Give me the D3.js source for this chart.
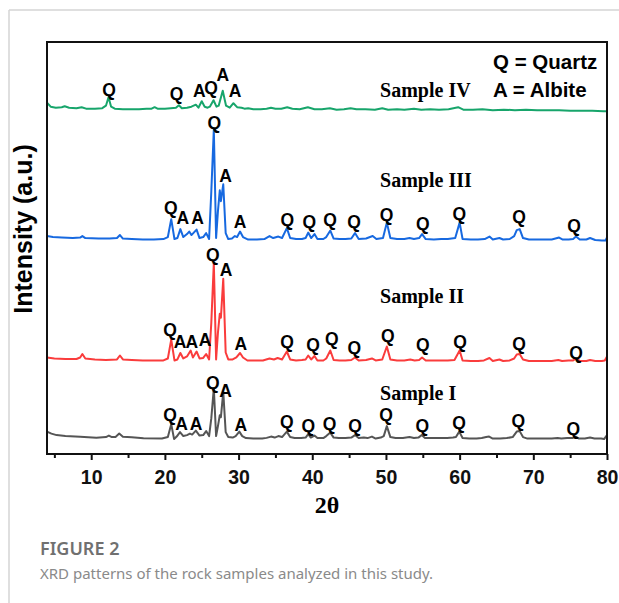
<!doctype html>
<html>
  <head>
    <style>
      body { margin: 0; background: white; }
      .arial { font-family: "Liberation Sans", Arial, sans-serif; font-weight: bold; }
      .times { font-family: "Liberation Serif", "Times New Roman", serif; font-weight: bold; }
      .cap { font-family: "Noto Sans", "Open Sans", sans-serif; }
    </style>
    <script src="https://d3js.org/d3.v7.min.js"></script>
  </head>
  <body>
    <div id="chart"></div>
    <script>
      // XRD patterns, [2theta, intensity above the sample's own baseline offset]
      var sampleNames = ["Sample I", "Sample II", "Sample III", "Sample IV"];
      var sampleColors = ["#555555", "#fa3c3c", "#1769e0", "#17a56b"];
      var sampleOffsets = [14, 92, 214, 344];

      var sampleI = [[4.0,8.5],[4.6,6.5],[5.3,5],[6.5,4.2],[8.5,3.3],[10.7,2.3],[12.0,3],[12.4,4.5],[12.8,3],[13.3,3.2],[13.8,6.5],[14.3,3.3],[15.5,2.8],[17.1,1.8],[19.6,1.5],[20.4,3],[20.86,16],[21.25,1],[21.6,3.5],[22.05,8],[22.5,4],[23.0,5],[23.4,6.5],[23.7,5.5],[24.2,9.5],[24.7,4.5],[25.2,5],[25.6,9],[26.0,4],[26.3,22],[26.64,52],[26.95,4],[27.2,14],[27.45,25],[27.6,23],[27.92,48.5],[28.25,8],[28.6,3],[29.2,2.5],[29.6,4],[30.1,8.5],[30.5,4],[31.0,2],[32.0,1.5],[33.2,1.5],[33.8,2.2],[34.4,3.5],[34.9,2.5],[35.4,4],[35.9,3],[36.55,8.5],[37.0,3],[37.6,2],[38.5,2],[39.1,2.5],[39.45,6],[39.8,2.5],[40.3,4.5],[40.7,2],[41.5,2],[41.9,4],[42.45,7.5],[42.9,2.5],[43.6,2],[44.5,2],[45.3,2.5],[45.8,5],[46.3,2],[47.0,2.5],[47.5,2],[48.1,3.5],[48.6,1.5],[49.3,2.5],[49.7,4],[50.12,14],[50.6,3],[51.3,2],[52.3,2],[53.2,3],[53.8,2],[54.4,2.5],[54.85,5],[55.3,2],[56.3,2],[57.3,2.2],[58.3,2],[59.1,2.5],[59.5,3],[59.95,8.5],[60.4,2],[61.3,1.5],[62.3,1.5],[63.0,2],[63.6,3],[64.0,3.5],[64.5,1.5],[65.5,1.5],[66.4,2],[67.2,3],[67.75,8.5],[68.15,9],[68.6,3],[69.2,1.5],[70.3,1.5],[71.3,1.5],[72.5,1.5],[73.3,2],[73.8,1.5],[74.6,2],[75.3,2],[75.75,3.5],[76.2,1.5],[77.0,1.5],[77.7,2.5],[78.3,1.5],[79.2,1.5],[79.6,1],[80.0,5]];

      var sampleII = [[4.0,5],[5.0,4],[6.5,3.5],[8.0,3.5],[8.5,5],[8.8,8.5],[9.2,4],[10.5,3],[12.0,2.5],[13.5,3],[13.9,7],[14.3,3],[15.5,2.5],[17.0,2],[18.5,2],[19.8,2],[20.4,4],[20.86,23],[21.3,2],[21.7,3],[22.1,9.5],[22.5,4],[23.0,6],[23.5,12],[23.8,5],[24.3,11],[24.7,4],[25.2,4.5],[25.6,8.5],[26.0,3],[26.3,40],[26.64,100],[26.95,3],[27.2,30],[27.45,49],[27.6,45],[27.92,84],[28.25,10],[28.6,3],[29.2,3],[29.7,5],[30.2,9.5],[30.6,5],[31.2,2],[32.3,2],[33.3,2],[34.2,4],[34.8,3],[35.3,4.5],[35.9,3],[36.55,11],[37.0,3],[37.8,2],[38.6,2.5],[39.1,3],[39.45,7],[39.85,3],[40.3,6.5],[40.7,2],[41.5,2],[41.9,4],[42.45,12],[42.9,2.5],[43.7,2],[44.5,2],[45.3,2.5],[45.8,5],[46.3,2],[47.3,2.5],[48.1,4],[48.6,2],[49.5,3],[50.12,16],[50.6,3],[51.5,2],[52.5,2],[53.3,3],[53.9,2],[54.5,2.5],[54.9,5],[55.4,2],[56.5,2],[57.5,2],[58.4,2],[59.3,2.5],[60.0,12],[60.4,2],[61.5,1.5],[62.5,1.5],[63.3,2],[64.05,4.5],[64.5,1.5],[65.4,3],[65.9,1.5],[66.8,2],[67.4,4],[67.75,8],[68.15,8.5],[68.6,3],[69.4,1.5],[70.5,1.5],[71.5,1.5],[72.5,1.5],[73.4,2.5],[73.9,1.5],[74.8,2],[75.4,2],[75.8,4],[76.3,1.5],[77.2,1.5],[77.7,2.5],[78.4,1.5],[79.3,1.5],[79.7,2],[80.0,6]];

      var sampleIII = [[4.0,5],[4.8,4],[6.0,3.5],[7.5,3],[8.5,3.5],[8.8,5],[9.2,3],[11.0,2.5],[12.5,2.5],[13.5,3],[13.9,6],[14.3,2.5],[15.5,2],[17.0,1.5],[18.5,1.5],[19.8,2],[20.4,4],[20.86,22],[21.3,2],[21.7,3],[22.1,12],[22.5,4],[23.0,7],[23.3,9.5],[23.6,6],[24.3,11.5],[24.7,3],[25.2,4],[25.6,8],[26.0,2],[26.3,50],[26.64,112],[26.95,3],[27.2,30],[27.45,51],[27.6,40],[27.92,57],[28.25,8],[28.6,2],[29.1,2.5],[29.5,5],[29.8,4],[30.2,9.5],[30.6,4],[31.3,1.5],[32.5,1.5],[33.5,2],[34.2,5],[34.7,3],[35.4,4.5],[35.9,3],[36.55,13],[37.0,3],[37.8,2],[38.6,2],[39.1,3],[39.45,8.5],[39.85,3],[40.3,7],[40.7,2],[41.5,2],[41.9,4],[42.45,10.5],[42.9,2.5],[43.7,2],[44.5,2],[45.3,2.5],[45.8,8],[46.3,2],[47.3,2.5],[48.2,5],[48.7,2],[49.6,3],[50.12,18.5],[50.6,3],[51.5,2],[52.5,2],[53.2,3],[53.8,2],[54.5,3],[54.9,7],[55.4,2],[56.5,1.5],[57.5,2],[58.4,2],[59.4,3],[60.0,18.5],[60.4,2],[61.5,1.5],[62.5,1.5],[63.4,2],[64.05,4.5],[64.5,1.5],[65.4,3],[65.9,1.5],[66.8,2],[67.4,5],[67.75,11],[68.15,12],[68.6,3],[69.4,1.5],[70.5,1.5],[71.5,1.5],[72.5,1.5],[73.5,3.5],[74.0,1.5],[74.8,1.5],[75.4,2],[75.8,4.5],[76.3,1.5],[77.2,1.5],[77.7,3],[78.4,1],[79.3,0.5],[79.8,0.5],[80.0,3.5]];

      var sampleIV = [[4.0,9],[4.5,5],[5.2,4],[6.0,4.5],[6.4,5.5],[7.0,4],[8.0,3.5],[8.7,4.5],[9.3,3],[10.5,3],[11.5,3.5],[12.0,6],[12.35,14.5],[12.7,5],[13.2,3],[14.3,2.5],[15.5,2.5],[16.5,2.5],[17.5,3],[18.2,3],[18.6,4.5],[19.0,3],[20.0,3],[20.8,3.5],[21.5,4],[21.9,6.5],[22.3,3.5],[23.0,4],[23.6,5],[24.2,7],[24.55,4],[25.0,10.5],[25.4,5],[25.8,4],[26.1,5],[26.6,11.5],[27.0,5],[27.3,6],[27.85,21],[28.3,6],[28.8,4],[29.3,8.5],[29.8,4.5],[30.4,4],[30.8,3],[31.3,3.5],[32.0,2.5],[33.0,2.5],[33.8,3],[34.4,4],[35.0,3],[35.8,3],[36.6,4.5],[37.3,3],[38.3,2.5],[39.4,4.5],[40.3,2.5],[41.3,2.5],[42.4,3.5],[43.3,2],[44.3,2.5],[45.2,3.5],[46.0,2.5],[47.2,2.5],[48.5,2],[49.5,3.5],[50.3,2],[51.5,2.5],[52.5,2],[53.8,3],[54.8,2],[56.0,2.5],[57.2,2],[58.5,2.5],[59.8,4.5],[60.5,2],[61.8,2],[63.1,2.5],[64.5,1.5],[66.0,2],[67.5,1.5],[69.0,2],[70.5,1.5],[72.0,1.5],[73.5,1.5],[75.0,1],[76.5,1],[78.0,1],[79.5,0.5],[80.0,0.5]];

      // phase labels: [2theta, letter, height above baseline]
      var labelsI = [[20.69,"Q",25.7],[22.28,"A",16.7],[24.22,"A",16.7],[26.49,"Q",57.3],[28.25,"A",49.3],[30.29,"A",15.7],[36.53,"Q",18.3],[39.46,"Q",14.7],[42.36,"Q",16.7],[45.8,"Q",14.3],[50.01,"Q",25.7],[54.94,"Q",14.3],[59.92,"Q",17.3],[67.97,"Q",19],[75.43,"Q",11.7]];
      var labelsII = [[20.69,"Q",33.1],[22.05,"A",20.7],[23.64,"A",20.7],[25.44,"A",22.4],[26.49,"Q",108.4],[28.29,"A",93.1],[30.29,"A",19.1],[36.57,"Q",20.7],[40.1,"Q",17.8],[42.64,"Q",23.8],[45.71,"Q",15.1],[50.24,"Q",26.7],[54.99,"Q",17.4],[60.05,"Q",20.7],[68.06,"Q",18.4],[75.8,"Q",9.7]];
      var labelsIII = [[20.79,"Q",33.7],[22.42,"A",23.7],[24.45,"A",23.7],[26.71,"Q",119.3],[28.25,"A",66],[30.19,"A",19.3],[36.61,"Q",21.7],[39.6,"Q",19.3],[42.41,"Q",21.2],[45.67,"Q",19.3],[50.1,"Q",26.7],[54.99,"Q",17.7],[59.96,"Q",27],[68.06,"Q",24.3],[75.53,"Q",15]];
      var labelsIV = [[12.41,"Q",21.6],[21.6,"Q",18.3],[24.67,"A",20.9],[26.26,"Q",24.3],[27.85,"A",37.6],[29.52,"A",20.6]];

      var sampleNameLift = [40, 59.4, 54, 14.6];
      var sampleName2theta = 49.2;
      var legendLines = ["Q = Quartz", "A = Albite"];

      var majorTicks = [10, 20, 30, 40, 50, 60, 70, 80];
      var minorTicks = [5, 15, 25, 35, 45, 55, 65, 75];

      var series = [sampleI, sampleII, sampleIII, sampleIV];
      var labelSets = [labelsI, labelsII, labelsIII, labelsIV];

      var width = 619, height = 603;
      var margin = {top: 42, right: 12, bottom: 149, left: 47};
      var innerW = width - margin.left - margin.right,
          innerH = height - margin.top - margin.bottom;

      var svg = d3.select("#chart").append("svg")
                  .attr("width", width)
                  .attr("height", height);

      // page border
      svg.append("line").attr("x1", 9).attr("y1", 10).attr("x2", 9).attr("y2", height)
         .attr("stroke", "#d4d4d4").attr("stroke-width", 1.5);
      svg.append("line").attr("x1", 9).attr("y1", 10).attr("x2", width).attr("y2", 10)
         .attr("stroke", "#d4d4d4").attr("stroke-width", 1.5);

      var x = d3.scaleLinear().domain([4, 80]).range([0, innerW]);
      var y = d3.scaleLinear().domain([0, 414]).range([innerH, 0]);

      var g = svg.append("g").attr("transform", "translate(" + margin.left + "," + margin.top + ")");

      var line = d3.line()
                   .x(function(d) { return x(d[0]); })
                   .y(function(d) { return y(d[1]); });

      series.forEach(function(s, i) {
        g.append("path")
         .datum(s.map(function(d) { return [d[0], d[1] + sampleOffsets[i]]; }))
         .attr("d", line)
         .attr("fill", "none")
         .attr("stroke", sampleColors[i])
         .attr("stroke-width", 2)
         .attr("stroke-linejoin", "round");

        g.selectAll(".lab" + i)
         .data(labelSets[i])
         .enter().append("text")
         .attr("class", "arial")
         .attr("x", function(d) { return x(d[0]); })
         .attr("y", function(d) { return y(d[2] + sampleOffsets[i]); })
         .attr("dy", "0.36em")
         .attr("text-anchor", "middle")
         .style("font-size", "17.5px")
         .text(function(d) { return d[1]; });

        g.append("text")
         .attr("class", "times")
         .attr("x", x(sampleName2theta))
         .attr("y", y(sampleNameLift[i] + sampleOffsets[i]))
         .style("font-size", "20px")
         .text(sampleNames[i]);
      });

      // legend
      g.selectAll(".legend")
       .data(legendLines)
       .enter().append("text")
       .attr("class", "arial")
       .attr("x", 446)
       .attr("y", function(d, i) { return 27 + i * 27.5; })
       .style("font-size", "20.5px")
       .text(function(d) { return d; });

      // frame
      g.append("rect")
       .attr("width", innerW).attr("height", innerH)
       .attr("fill", "none").attr("stroke", "#111").attr("stroke-width", 2);

      // x axis
      var xAxis = g.append("g").attr("transform", "translate(0," + innerH + ")")
                   .call(d3.axisBottom(x).tickValues(majorTicks).tickSize(6).tickPadding(10).tickFormat(d3.format("d")));
      xAxis.select(".domain").remove();
      xAxis.selectAll("line").attr("stroke", "#111").attr("stroke-width", 2);
      xAxis.selectAll("text").attr("class", "arial").style("font-size", "19.5px").attr("fill", "#111");

      var xMinor = g.append("g").attr("transform", "translate(0," + innerH + ")")
                    .call(d3.axisBottom(x).tickValues(minorTicks).tickSize(4).tickFormat(""));
      xMinor.select(".domain").remove();
      xMinor.selectAll("line").attr("stroke", "#111").attr("stroke-width", 2);

      // axis titles
      svg.append("text")
         .attr("class", "times")
         .attr("x", margin.left + innerW / 2)
         .attr("y", 513)
         .attr("text-anchor", "middle")
         .style("font-size", "24px")
         .text("2θ");

      svg.append("text")
         .attr("class", "arial")
         .attr("transform", "translate(32,229) rotate(-90)")
         .attr("text-anchor", "middle")
         .style("font-size", "25px")
         .text("Intensity (a.u.)");

      // caption
      svg.append("text")
         .attr("class", "cap")
         .attr("x", 40).attr("y", 555)
         .attr("fill", "#707070")
         .style("font-size", "18px").style("font-weight", 600)
         .text("FIGURE 2");
      svg.append("text")
         .attr("class", "cap")
         .attr("x", 40).attr("y", 579)
         .attr("fill", "#8a8a8a")
         .style("font-size", "15px")
         .text("XRD patterns of the rock samples analyzed in this study.");
    </script>
  </body>
</html>
